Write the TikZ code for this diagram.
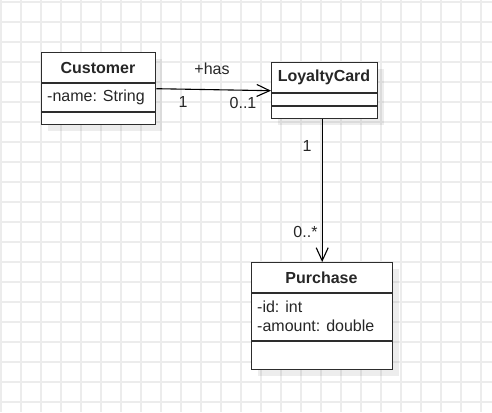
\documentclass[tikz,border=0pt]{standalone}
\usepackage{fontspec}
\setmainfont{Liberation Sans}
\definecolor{gridline}{RGB}{236, 236, 236}
\definecolor{boxline}{RGB}{45, 45, 45}
\usetikzlibrary{arrows.meta, calc, shadows}
\tikzset{
    every node/.style={font=\fontsize{16}{19}\selectfont, text=black!85},
    umlclass/.style={draw=boxline, line width=1.4pt, fill=white, inner sep=0pt,
        anchor=north west, drop shadow={shadow xshift=6pt, shadow yshift=-6pt,
        fill=black, opacity=0.07}},
    classname/.style={font=\fontsize{16}{19}\selectfont\bfseries},
    member/.style={anchor=west, inner sep=0pt, align=left},
    umlsep/.style={draw=boxline, line width=1.4pt},
    assoc/.style={draw=black, line width=1.1pt,
        -{Straight Barb[length=13pt, width=12pt, line width=1.1pt]}},
    multlabel/.style={inner sep=0pt},
}

\begin{document}
\begin{tikzpicture}[x=1pt, y=-1pt]
    \useasboundingbox (0, 0) rectangle (492, 412);
    % background grid
    \foreach \gx in {1, 21, ..., 481}
        \draw[gridline, line width=1.5pt] (\gx, 0) -- (\gx, 412);
    \foreach \gy in {2, 22, ..., 402}
        \draw[gridline, line width=1.5pt] (0, \gy) -- (492, \gy);

    % Customer
    \node[umlclass, minimum width=114pt, minimum height=72pt] (customer) at (41, 52) {};
    \draw[umlsep] (41, 83) -- (155, 83);
    \draw[umlsep] (41, 112) -- (155, 112);
    \node[classname] (customer-name) at (98, 67.5) {Customer};
    \node[member] (customer-attrs) at (47, 97.5) {-name: String};

    % LoyaltyCard
    \node[umlclass, minimum width=106pt, minimum height=56pt] (loyalty) at (271, 62) {};
    \draw[umlsep] (271, 93) -- (377, 93);
    \draw[umlsep] (271, 106) -- (377, 106);
    \node[classname] (loyalty-name) at (324, 77.5) {LoyaltyCard};

    % Purchase
    \node[umlclass, minimum width=141pt, minimum height=107pt] (purchase) at (251, 262) {};
    \draw[umlsep] (251, 293) -- (392, 293);
    \draw[umlsep] (251, 341) -- (392, 341);
    \node[classname] (purchase-name) at (321.5, 277.5) {Purchase};
    \node[member] (purchase-attrs) at (257, 316.5) {-id: int\\-amount: double};

    % associations
    \draw[assoc] (customer.east) -- (loyalty.west);
    \node[multlabel] (has-label) at (212, 69) {+has};
    \node[multlabel] (has-src) at (183, 101.5) {1};
    \node[multlabel] (has-dst) at (243, 103) {0..1};

    \coordinate (card-out) at (purchase.north |- loyalty.south);
    \draw[assoc] (card-out) -- (purchase.north);
    \node[multlabel] (buy-src) at (307, 145.5) {1};
    \node[multlabel] (buy-dst) at (305.5, 232) {0..*};
\end{tikzpicture}
\end{document}
